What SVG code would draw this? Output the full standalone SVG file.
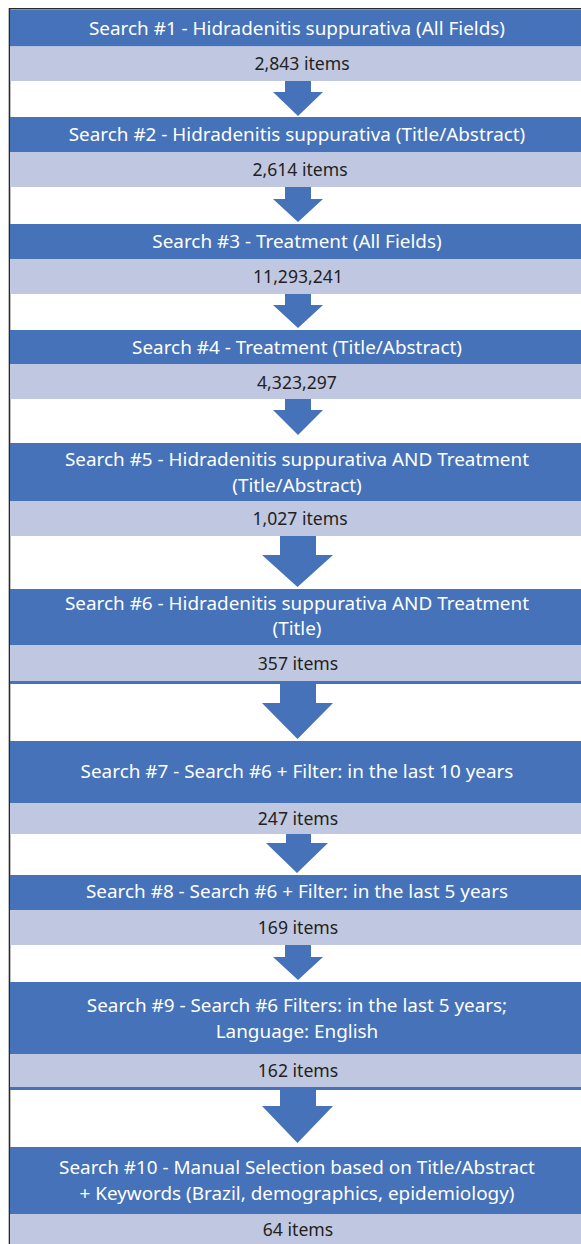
<svg xmlns="http://www.w3.org/2000/svg" width="581" height="1244" viewBox="0 0 581 1244">
<style>
.b{fill:#4572B8}
.l{fill:#C0C7E1}
.t{font-family:"Noto Sans","Liberation Sans",sans-serif;font-size:18.9px;fill:#FFFFFF;text-anchor:middle}
.n{font-family:"Noto Sans","Liberation Sans",sans-serif;font-size:17.6px;fill:#231F20;text-anchor:middle}
.a{fill:#4572B8}
</style>
<rect x="0" y="0" width="581" height="1244" fill="#FFFFFF"/>
<path d="M9.5,1244 V8.8 H581" fill="none" stroke="#2A2A2A" stroke-width="1.6"/>
<g id="node1"><rect class="b" x="10" y="10" width="571" height="36.5"/><rect class="l" x="10" y="46.5" width="571" height="34.5"/>
<text class="t" x="297" y="34.5">Search #1 - Hidradenitis suppurativa (All Fields)</text>
<text class="n" x="302" y="70">2,843 items</text></g>
<g id="node2"><rect class="b" x="10" y="117" width="571" height="35"/><rect class="l" x="10" y="152" width="571" height="35"/>
<text class="t" x="297" y="140.5">Search #2 - Hidradenitis suppurativa (Title/Abstract)</text>
<text class="n" x="300" y="175.5">2,614 items</text></g>
<g id="node3"><rect class="b" x="10" y="224" width="571" height="35"/><rect class="l" x="10" y="259" width="571" height="35"/>
<text class="t" x="297" y="247.5">Search #3 - Treatment (All Fields)</text>
<text class="n" x="298" y="282.5">11,293,241</text></g>
<g id="node4"><rect class="b" x="10" y="330" width="571" height="34"/><rect class="l" x="10" y="364" width="571" height="35"/>
<text class="t" x="297" y="353.5">Search #4 - Treatment (Title/Abstract)</text>
<text class="n" x="297" y="388.5">4,323,297</text></g>
<g id="node5"><rect class="b" x="10" y="443" width="571" height="58"/><rect class="l" x="10" y="501" width="571" height="35"/>
<text class="t" x="297" y="465.5">Search #5 - Hidradenitis suppurativa AND Treatment</text>
<text class="t" x="297" y="491.5">(Title/Abstract)</text>
<text class="n" x="300" y="524.5">1,027 items</text></g>
<g id="node6"><rect class="b" x="10" y="589" width="571" height="56"/><rect class="l" x="10" y="645" width="571" height="36"/><rect class="b" x="10" y="681" width="571" height="3"/>
<text class="t" x="297" y="609.5">Search #6 - Hidradenitis suppurativa AND Treatment</text>
<text class="t" x="297" y="634.5">(Title)</text>
<text class="n" x="298" y="669.5">357 items</text></g>
<g id="node7"><rect class="b" x="10" y="741" width="571" height="62"/><rect class="l" x="10" y="803" width="571" height="31"/>
<text class="t" x="297" y="777.5">Search #7 - Search #6 + Filter: in the last 10 years</text>
<text class="n" x="298" y="824.5">247 items</text></g>
<g id="node8"><rect class="b" x="10" y="875" width="571" height="35"/><rect class="l" x="10" y="910" width="571" height="35"/>
<text class="t" x="297" y="897.5">Search #8 - Search #6 + Filter: in the last 5 years</text>
<text class="n" x="298" y="933.5">169 items</text></g>
<g id="node9"><rect class="b" x="10" y="982" width="571" height="72"/><rect class="l" x="10" y="1054" width="571" height="33"/><rect class="b" x="10" y="1087" width="571" height="3"/>
<text class="t" x="297" y="1011.5">Search #9 - Search #6 Filters: in the last 5 years;</text>
<text class="t" x="297" y="1037.5">Language: English</text>
<text class="n" x="298" y="1076.5">162 items</text></g>
<g id="node10"><rect class="b" x="10" y="1147" width="571" height="67"/><rect class="l" x="10" y="1214" width="571" height="30"/>
<text class="t" x="297" y="1173.5">Search #10 - Manual Selection based on Title/Abstract</text>
<text class="t" x="297" y="1199.5">+ Keywords (Brazil, demographics, epidemiology)</text>
<text class="n" x="298" y="1235.5">64 items</text></g>
<g id="connectors">
<polygon class="a" points="285,81 311,81 311,92 323,92 298,116 273,92 285,92"/>
<polygon class="a" points="285,187 311,187 311,199 323,199 298,222 273,199 285,199"/>
<polygon class="a" points="285,294 311,294 311,305 323,305 298,328 273,305 285,305"/>
<polygon class="a" points="285,399 311,399 311,410 323,410 298,435 273,410 285,410"/>
<polygon class="a" points="280,536 316,536 316,555 333,555 297.5,587 262,555 280,555"/>
<polygon class="a" points="280,684 316,684 316,703 333,703 297.5,739 262,703 280,703"/>
<polygon class="a" points="286,834 311,834 311,843 328,843 297,873 266,843 286,843"/>
<polygon class="a" points="285,945 311,945 311,957 323,957 298,980 273,957 285,957"/>
<polygon class="a" points="280,1090 316,1090 316,1106 333,1106 297.5,1143 262,1106 280,1106"/>
</g>
</svg>
